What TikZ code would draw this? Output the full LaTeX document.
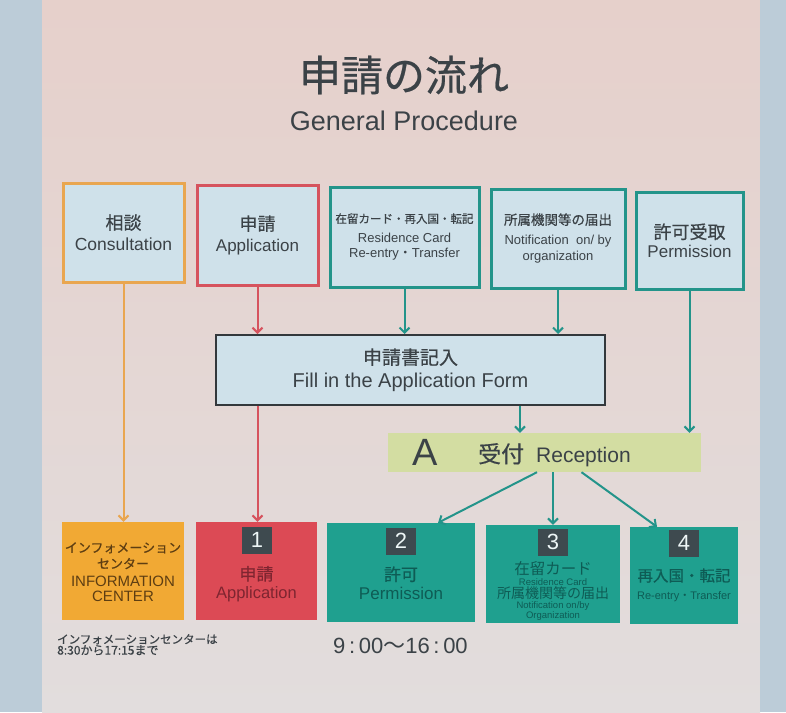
\documentclass[tikz,border=0pt]{standalone}
\usepackage{fontspec}
\setmainfont{Liberation Sans}
\newfontfamily\jp{Noto Sans CJK JP}
\newfontfamily\jb[FakeBold=0.5]{Noto Sans CJK JP}
\usetikzlibrary{arrows.meta}
\definecolor{bgtop}{HTML}{E6D0CB}
\definecolor{bgbot}{HTML}{E2DDDD}
\definecolor{side}{HTML}{BCCCD8}
\definecolor{boxfill}{HTML}{CFE1EA}
\definecolor{oline}{HTML}{E9A650}
\definecolor{rline}{HTML}{D6535E}
\definecolor{tline}{HTML}{23948A}
\definecolor{dline}{HTML}{33383C}
\definecolor{txt}{HTML}{3B4247}
\definecolor{recfill}{HTML}{D3DDA2}
\definecolor{ofill}{HTML}{F1A934}
\definecolor{rfill}{HTML}{DC4A55}
\definecolor{tfill}{HTML}{1FA08F}
\definecolor{badgefill}{HTML}{3E4A4F}
\definecolor{otxt}{HTML}{5E3E12}
\definecolor{rtxt}{HTML}{7E2530}
\definecolor{ttxt}{HTML}{0E5C55}
\newcommand{\fs}[1]{\fontsize{#1}{#1}\selectfont}
\begin{document}
\begin{tikzpicture}[x=1pt,y=-1pt,
  topbox/.style={draw, line width=3pt, fill=boxfill, align=center, text=txt, inner sep=0pt},
  botbox/.style={inner sep=0pt},
  badge/.style={fill=badgefill, text=white!92!tline, minimum width=30pt, minimum height=27pt, inner sep=0pt, font=\fs{22}},
  lbl/.style={align=center, inner sep=0pt},
  arr/.style={line width=2pt, -{Straight Barb[length=5pt,width=10pt,line width=2pt]}}
]
\useasboundingbox (0,0) rectangle (786,712);
\shade[top color=bgtop, bottom color=bgbot] (42,0) rectangle (760,712);
\fill[side] (0,0) rectangle (42,712);
\fill[side] (760,0) rectangle (786,712);

% title
\node[text=txt, font=\jb\fs{42}, inner sep=0pt] (title) at (404,75) {申請の流れ};
\node[text=txt, font=\fs{27}, inner sep=0pt] (sub) at (404,121) {General Procedure};

% top boxes
\node[topbox, draw=oline, minimum width=121pt, minimum height=99pt] (cons) at (123.5,232.5)
  {{\jb\fs{18}相談}\\[6pt]{\fs{17.5}Consultation}};
\node[topbox, draw=rline, minimum width=121pt, minimum height=100pt] (app) at (257.5,235)
  {{\jb\fs{18}申請}\\[6pt]{\fs{17}Application}};
\node[topbox, draw=tline, minimum width=149pt, minimum height=100pt] (res) at (404.5,237)
  {{\jb\fs{11.5}在留カード・再入国・転記}\\[8pt]{\fs{13}Residence Card}\\[3pt]{\fs{13}Re-entry{\jp ・}Transfer}};
\node[topbox, draw=tline, minimum width=134pt, minimum height=99pt] (notif) at (558,238.5)
  {{\jb\fs{13.5}所属機関等の届出}\\[8pt]{\fs{13}Notification\ \ on/ by}\\[3pt]{\fs{13}organization}};
\node[topbox, draw=tline, minimum width=107pt, minimum height=97pt] (perm) at (689.5,240.5)
  {{\jb\fs{18}許可受取}\\[4pt]{\fs{17}Permission}};

% middle
\node[topbox, draw=dline, line width=2pt, minimum width=389pt, minimum height=70pt] (fill) at (410.5,370)
  {{\jb\fs{19}申請書記入}\\[6pt]{\fs{20}Fill in the Application Form}};
\node[fill=recfill, minimum width=313pt, minimum height=39pt, inner sep=0pt] (recep) at (544.5,452.5) {};
\node[text=txt, font=\fs{38}, inner sep=0pt] (recA) at (425,452.5) {A};
\node[text=txt, inner sep=0pt, anchor=west] (recT) at (478,455) {{\jb\fs{23}受付}\hspace{12pt}{\fs{21}Reception}};

% bottom boxes
\node[botbox, fill=ofill, minimum width=122pt, minimum height=98pt] (info) at (123,571) {};
\node[botbox, fill=rfill, minimum width=121pt, minimum height=98pt] (b1) at (256.5,571) {};
\node[botbox, fill=tfill, minimum width=148pt, minimum height=99pt] (b2) at (401,572.5) {};
\node[botbox, fill=tfill, minimum width=134pt, minimum height=98pt] (b3) at (553,574) {};
\node[botbox, fill=tfill, minimum width=108pt, minimum height=97pt] (b4) at (684,575.5) {};

\node[lbl, text=otxt] (infoT) at (123,572)
  {{\jb\fs{13}インフォメーション}\\[4pt]{\jb\fs{13}センター}\\[6pt]{\fs{15}INFORMATION}\\[3pt]{\fs{15}CENTER}};

\node[badge] (n1) at (257,540) {1};
\node[lbl, text=rtxt] (b1T) at (256.5,584) {{\jb\fs{17}申請}\\[4pt]{\fs{16.5}Application}};
\node[badge] (n2) at (401,541) {2};
\node[lbl, text=ttxt] (b2T) at (401,583) {{\jb\fs{17}許可}\\[4pt]{\fs{17}Permission}};
\node[badge] (n3) at (553,542) {3};
\node[lbl, text=ttxt] (b3T) at (553,591)
  {{\jp\fs{15.5}在留カード}\\[-1pt]{\fs{9.5}Residence Card}\\[1pt]{\jp\fs{14}所属機関等の届出}\\[-2pt]{\fs{9.5}Notification on/by}\\[-2pt]{\fs{9.5}Organization}};
\node[badge] (n4) at (684,543) {4};
\node[lbl, text=ttxt] (b4T) at (684,585) {{\jb\fs{15.5}再入国・転記}\\[6pt]{\fs{11}Re-entry{\jp ・}Transfer}};

% notes
\node[text=txt, align=left, anchor=north west, inner sep=0pt] (note) at (57,634)
  {{\jb\fs{11.5}インフォメーションセンターは}\\[-1pt]{\jb\fs{12}8:30から17:15まで}};
\node[text=txt, anchor=west, inner sep=0pt] (hours) at (333,646) {{\fs{22}9\,:\,00{\jp ～}16\,:\,00}};

% connectors
\draw[arr, oline] (cons.south) -- (cons.south |- info.north);
\draw[arr, rline] (app.south) -- (app.south |- fill.north);
\draw[arr, rline] (app.south |- fill.south) -- (app.south |- b1.north);
\draw[arr, tline] (res.south) -- (res.south |- fill.north);
\draw[arr, tline] (notif.south) -- (notif.south |- fill.north);
\draw[arr, tline] (perm.south) -- (perm.south |- recep.north);
\draw[arr, tline] ([xshift=109.5pt]fill.south) -- ([xshift=109.5pt]fill.south |- recep.north);
\draw[arr, tline] ([xshift=-7.5pt]recep.south) -- ([xshift=37pt]b2.north);
\draw[arr, tline] ([xshift=8.5pt]recep.south) -- (b3.north);
\draw[arr, tline] ([xshift=37pt]recep.south) -- ([xshift=-27pt]b4.north);
\end{tikzpicture}
\end{document}
